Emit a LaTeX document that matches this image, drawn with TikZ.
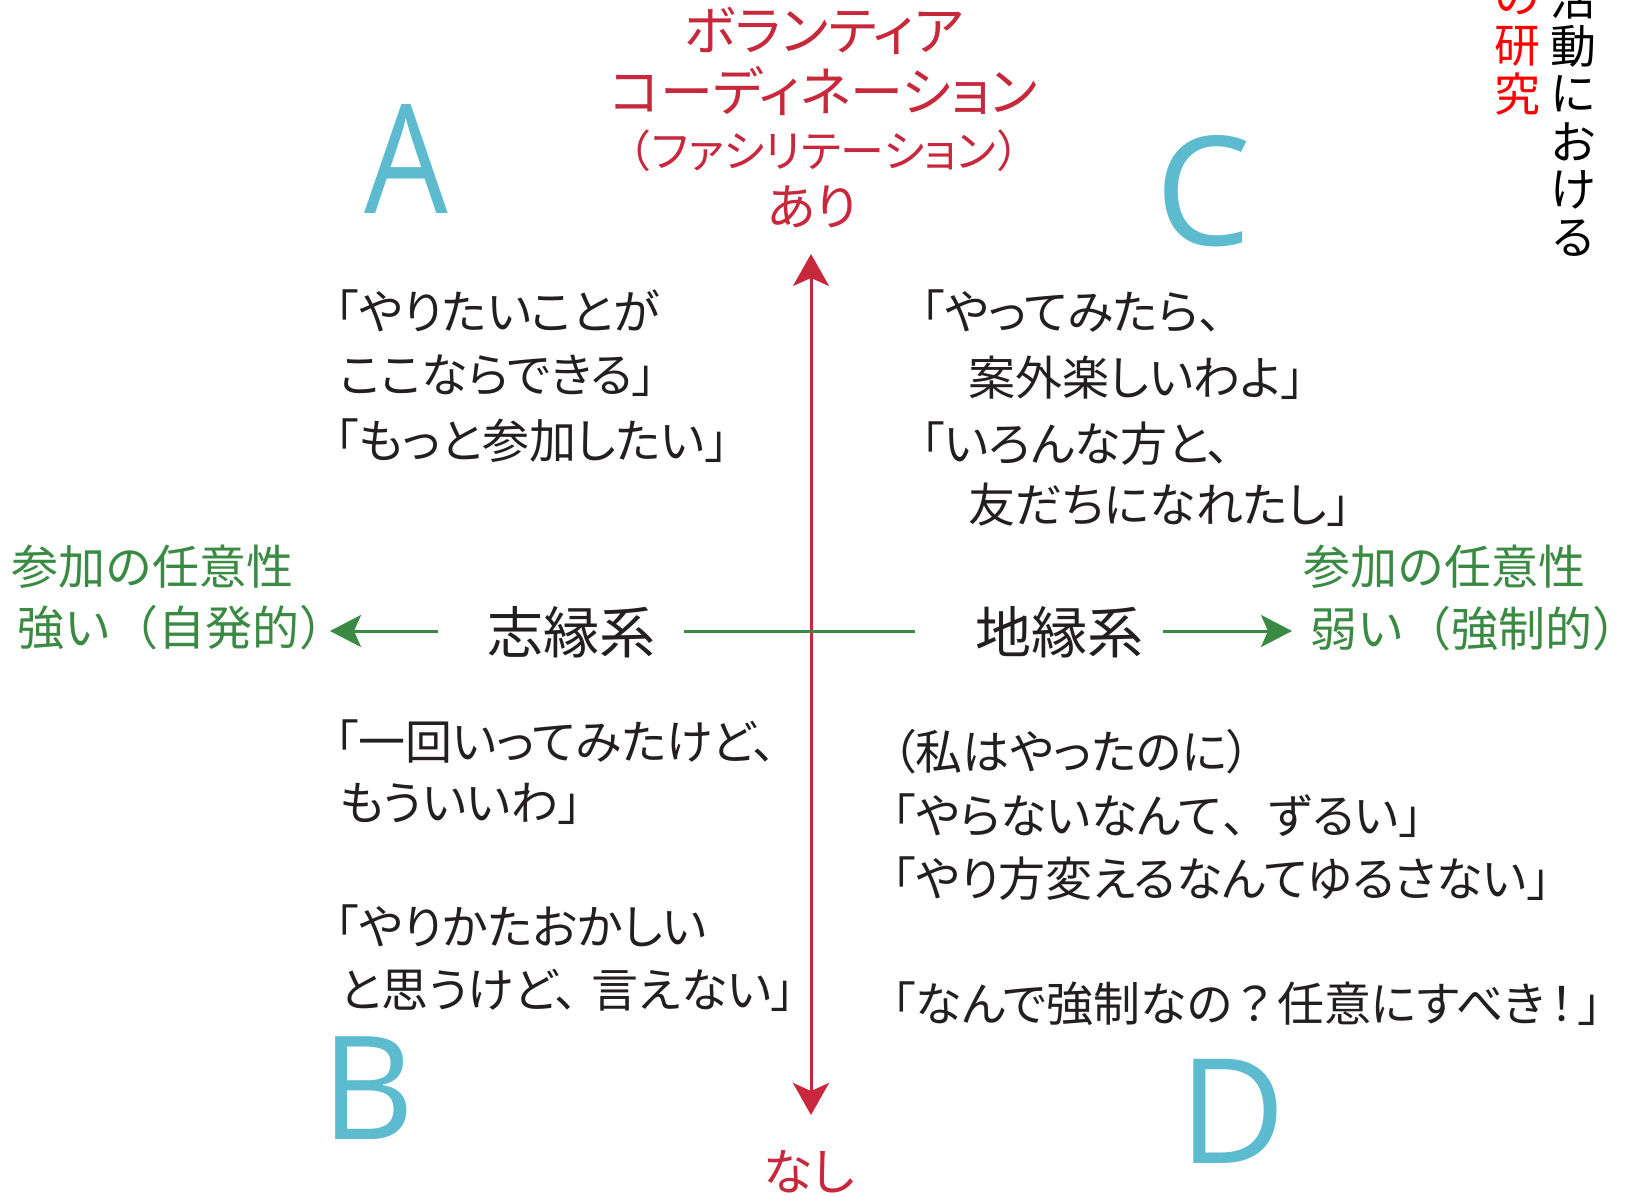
\documentclass[tikz,border=0pt]{standalone}
\usepackage{fontspec}
\usepackage{graphicx}
\setmainfont{Noto Sans CJK JP}[RawFeature=+palt]
\newfontfamily\latinf{Open Sans}
\newfontfamily\fw{Noto Sans CJK JP}
\usetikzlibrary{arrows.meta}
\definecolor{cred}{HTML}{C8283C}
\definecolor{cgreen}{HTML}{3A8A44}
\definecolor{ccyan}{HTML}{5CBBCF}
\definecolor{qblack}{HTML}{231F20}
\definecolor{pured}{HTML}{FF0000}
\newcommand{\halfclose}{\makebox[0.5em][l]{）}}
\tikzset{
  quote/.style={anchor=west, inner sep=0pt, text=qblack, font=\fontsize{47}{50}\selectfont},
  redtitle/.style={anchor=center, inner sep=0pt, text=cred, font=\fontsize{53}{56}\selectfont},
  redsmall/.style={anchor=center, inner sep=0pt, text=cred, font=\fontsize{44}{46}\selectfont},
  redyesno/.style={anchor=center, inner sep=0pt, text=cred, font=\fontsize{50}{55}\selectfont},
  glabel/.style={anchor=west, inner sep=0pt, text=cgreen, font=\fw\fontsize{47}{50}\selectfont},
  kei/.style={anchor=center, inner sep=0pt, text=qblack, font=\fontsize{56}{60}\selectfont},
  letter/.style={anchor=base, inner sep=0pt, text=ccyan},
  vchar/.style={anchor=center, inner sep=0pt, font=\fw\fontsize{46}{50}\selectfont},
  redarrow/.style={draw=cred, line width=3pt, {Stealth[length=32pt,width=36pt,inset=8pt]}-{Stealth[length=32pt,width=36pt,inset=8pt]}},
  greenline/.style={draw=cgreen, line width=3pt},
  greenarrow/.style={draw=cgreen, line width=3pt, -{Stealth[length=31pt,width=32pt,inset=7pt]}}
}
\begin{document}
\begin{tikzpicture}[x=1pt,y=-1pt]
\useasboundingbox[fill=white] (0,0) rectangle (1626,1196);

% title (top)
\node[redtitle] (t1) at (824,31) {ボランティア};
\node[redtitle] (t2) at (824,91) {コーディネーション};
\node[redsmall] (t3) at (824,151) {{\fw （}ファシリテーション{\fw ）}};
\node[redyesno] (ari) at (812,207) {あり};
\node[redyesno] (nashi) at (809,1172) {なし};

% quadrant letters
\node[letter, font=\latinf\fontsize{152}{152}\selectfont] (A) at (406,213) {\scalebox{0.87}[1]{A}};
\node[letter, font=\latinf\fontsize{152}{152}\selectfont] (C) at (1203,245) {C};
\node[letter, font=\latinf\fontsize{144}{144}\selectfont] (B) at (368,1139) {B};
\node[letter, font=\latinf\fontsize{146}{146}\selectfont] (D) at (1233,1163) {D};

% axis arrows
\coordinate (vtop) at (811,254);
\coordinate (vbot) at (811,1115);
\draw[redarrow] (vbot) -- (vtop);

\node[kei] (shien) at (571,632) {志縁系};
\node[kei] (chien) at (1059,632) {地縁系};
\coordinate (hl) at (684,631);
\coordinate (hr) at (915,631);
\draw[greenline] (hl) -- (hr);
\coordinate (la) at (438,631);
\coordinate (lt) at (330,631);
\draw[greenarrow] (la) -- (lt);
\coordinate (ra) at (1163,631);
\coordinate (rt) at (1292,631);
\draw[greenarrow] (ra) -- (rt);

% green labels
\node[glabel] (gl1) at (11,567) {参加の任意性};
\node[glabel] (gl2) at (17,628) {強い（自発的\halfclose};
\node[glabel] (gr1) at (1303,567) {参加の任意性};
\node[glabel] (gr2) at (1310,629) {弱い（強制的\halfclose};

% quadrant A quotes
\node[quote] (a1) at (335,311) {「やりたいことが};
\node[quote] (a2) at (340,376) {ここならできる」};
\node[quote] (a3) at (335,441) {「もっと参加したい」};

% quadrant C quotes
\node[quote] (c1) at (921,311) {「やってみたら、};
\node[quote] (c2) at (968,378) {案外楽しいわよ」};
\node[quote] (c3) at (921,444) {「いろんな方と、};
\node[quote] (c4) at (968,505) {友だちになれたし」};

% quadrant B quotes
\node[quote] (b1) at (335,741) {「一回いってみたけど、};
\node[quote] (b2) at (340,804) {もういいわ」};
\node[quote] (b3) at (335,926) {「やりかたおかしい};
\node[quote] (b4) at (340,990) {と思うけど、\hspace{0.28em}言えない」};

% quadrant D quotes
\node[quote] (d1) at (892,752) {（私はやったのに）};
\node[quote] (d2) at (892,816) {「やらないなんて{\fw 、}ずるい」};
\node[quote] (d3) at (892,879) {「やり方変えるなんてゆるさない」};
\node[quote] (d4) at (892,1004) {「なんで強制なの\hspace{0.12em}？\hspace{0.12em}任意にすべき\hspace{0.1em}！\hspace{0.1em}」};

% vertical text, top right (cut by the page edge, as in the reference)
\node[vchar, text=black] (v1) at (1573,-2) {活};
\node[vchar, text=black] (v2) at (1573,46) {動};
\node[vchar, text=black] (v3) at (1573,94) {に};
\node[vchar, text=black] (v4) at (1573,142) {お};
\node[vchar, text=black] (v5) at (1573,190) {け};
\node[vchar, text=black] (v6) at (1573,238) {る};
\node[vchar, text=pured] (w1) at (1517,-2) {の};
\node[vchar, text=pured] (w2) at (1517,46) {研};
\node[vchar, text=pured] (w3) at (1517,94) {究};
\end{tikzpicture}
\end{document}
